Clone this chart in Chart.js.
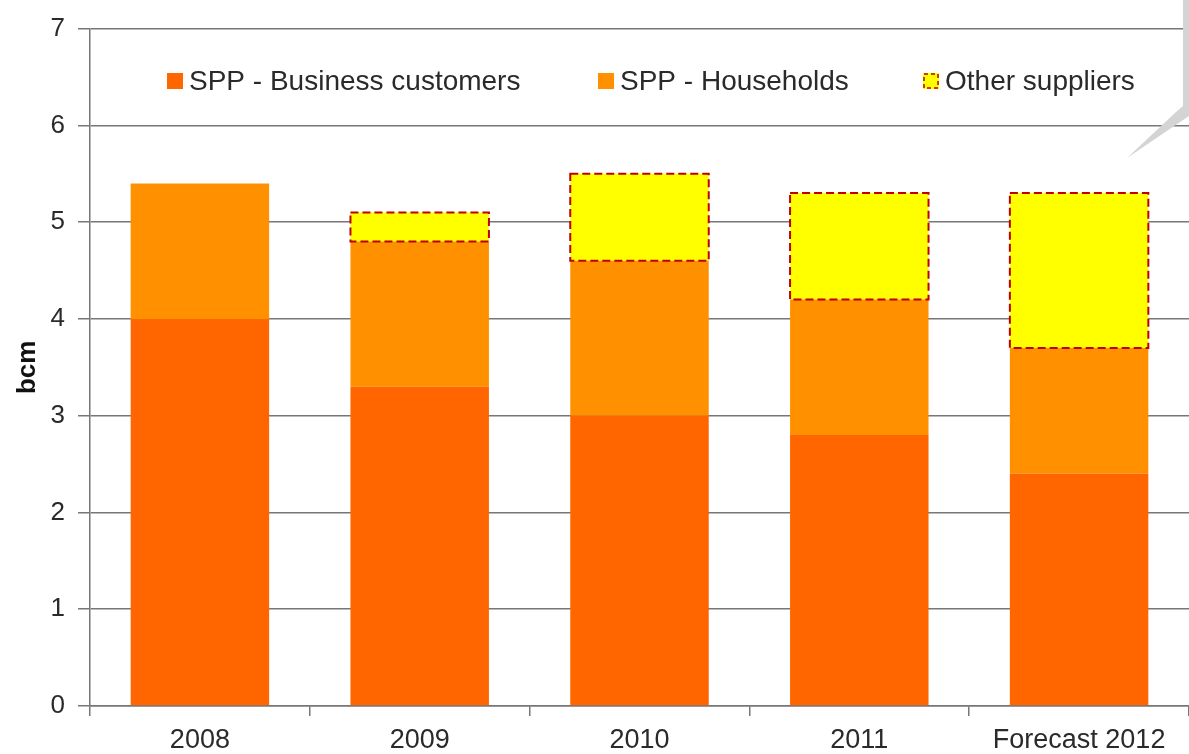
<!DOCTYPE html>
<html>
<head>
<meta charset="utf-8">
<script src="https://cdn.jsdelivr.net/npm/chart.js@4/dist/chart.umd.min.js"></script>
<style>
  body { margin: 0; background: #fff; }
  #wrap { width: 1189px; height: 754px; }
</style>
</head>
<body>
<div id="wrap"><canvas id="myChart" width="1189" height="754"></canvas></div>
<script>
const years = ['2008', '2009', '2010', '2011', 'Forecast 2012'];
const business = [4.0, 3.3, 3.0, 2.8, 2.4];
const households = [1.4, 1.5, 1.6, 1.4, 1.3];
const others = [0, 0.3, 0.9, 1.1, 1.6];
const yTicks = [0, 1, 2, 3, 4, 5, 6, 7];

const colors = ['#ff6600', '#ff9100', '#ffff00'];
const dashColor = '#c00000';
const FONT = '"Liberation Sans", Arial, sans-serif';

// dashed outline for "Other suppliers" boxes (bars have no borderDash)
const dashedBars = {
  id: 'dashedBars',
  afterDatasetsDraw(chart) {
    const ctx = chart.ctx;
    const meta = chart.getDatasetMeta(2);
    ctx.save();
    ctx.strokeStyle = dashColor;
    ctx.lineWidth = 2;
    ctx.setLineDash([8, 4]);
    meta.data.forEach((bar, i) => {
      if (!others[i]) return;
      const p = bar.getProps(['x', 'y', 'base', 'width'], true);
      ctx.strokeRect(p.x - p.width / 2, p.y, p.width, p.base - p.y);
    });
    ctx.restore();
  }
};

// legend sits inside the plot, between the 6 and 7 gridlines
const innerLegend = {
  id: 'innerLegend',
  afterDraw(chart) {
    const ctx = chart.ctx;
    const area = chart.chartArea;
    const starts = [77, 508, 833];
    const cy = 81;
    ctx.save();
    ctx.font = '28px ' + FONT;
    ctx.textBaseline = 'middle';
    chart.data.datasets.forEach((ds, i) => {
      const x = area.left + starts[i];
      ctx.fillStyle = ds.backgroundColor;
      ctx.fillRect(x, cy - 8, 16, 16);
      if (i === 2) {
        ctx.strokeStyle = dashColor;
        ctx.lineWidth = 1.5;
        ctx.setLineDash([4, 3]);
        ctx.strokeRect(x + 1, cy - 7, 14, 14);
        ctx.setLineDash([]);
      }
      ctx.fillStyle = '#2a2a2a';
      ctx.fillText(ds.label, x + 22, cy + 1);
    });

    // grey corner of the callout bubble at the top right
    ctx.fillStyle = '#d4d4d4';
    ctx.beginPath();
    ctx.moveTo(1183, 0);
    ctx.lineTo(1189, 0);
    ctx.lineTo(1189, 116);
    ctx.lineTo(1127, 158);
    ctx.lineTo(1176, 112);
    ctx.lineTo(1183, 106);
    ctx.closePath();
    ctx.fill();
    ctx.restore();
  }
};

const ctx = document.getElementById('myChart').getContext('2d');

const myChart = new Chart(ctx, {
  type: 'bar',
  data: {
    labels: years,
    datasets: [{
      label: 'SPP - Business customers',
      data: business,
      backgroundColor: colors[0],
    }, {
      label: 'SPP - Households',
      data: households,
      backgroundColor: colors[1],
    }, {
      label: 'Other suppliers',
      data: others,
      backgroundColor: colors[2],
    }]
  },
  options: {
    responsive: false,
    animation: false,
    layout: {
      padding: {top: 27, right: 0, bottom: 0, left: 0}
    },
    datasets: {
      bar: {
        barPercentage: 0.63,
        categoryPercentage: 1.0,
        borderWidth: 0,
      }
    },
    plugins: {
      legend: {display: false},
      tooltip: {enabled: false},
    },
    scales: {
      x: {
        stacked: true,
        afterFit(scale) { scale.height = 48; },
        grid: {
          offset: true,
          drawOnChartArea: false,
          drawTicks: true,
          tickLength: 10,
          color: '#777',
          lineWidth: 1.5,
        },
        border: {color: '#777', width: 1.5},
        ticks: {
          color: '#2a2a2a',
          padding: 8,
          font: {family: FONT, size: 27},
        }
      },
      y: {
        stacked: true,
        min: 0,
        max: 7,
        afterFit(scale) { scale.width = 90; },
        afterBuildTicks(scale) {
          scale.ticks = yTicks.map(v => ({value: v}));
        },
        grid: {
          color: '#777',
          lineWidth: 1.5,
          tickLength: 12,
        },
        border: {color: '#777', width: 1.5},
        ticks: {
          color: '#2a2a2a',
          padding: 13,
          font: {family: FONT, size: 26},
        },
        title: {
          display: true,
          text: 'bcm',
          color: '#111',
          padding: {top: 12, bottom: 0},
          font: {family: FONT, size: 26, weight: 'bold'},
        }
      }
    }
  },
  plugins: [dashedBars, innerLegend]
});
</script>
</body>
</html>
